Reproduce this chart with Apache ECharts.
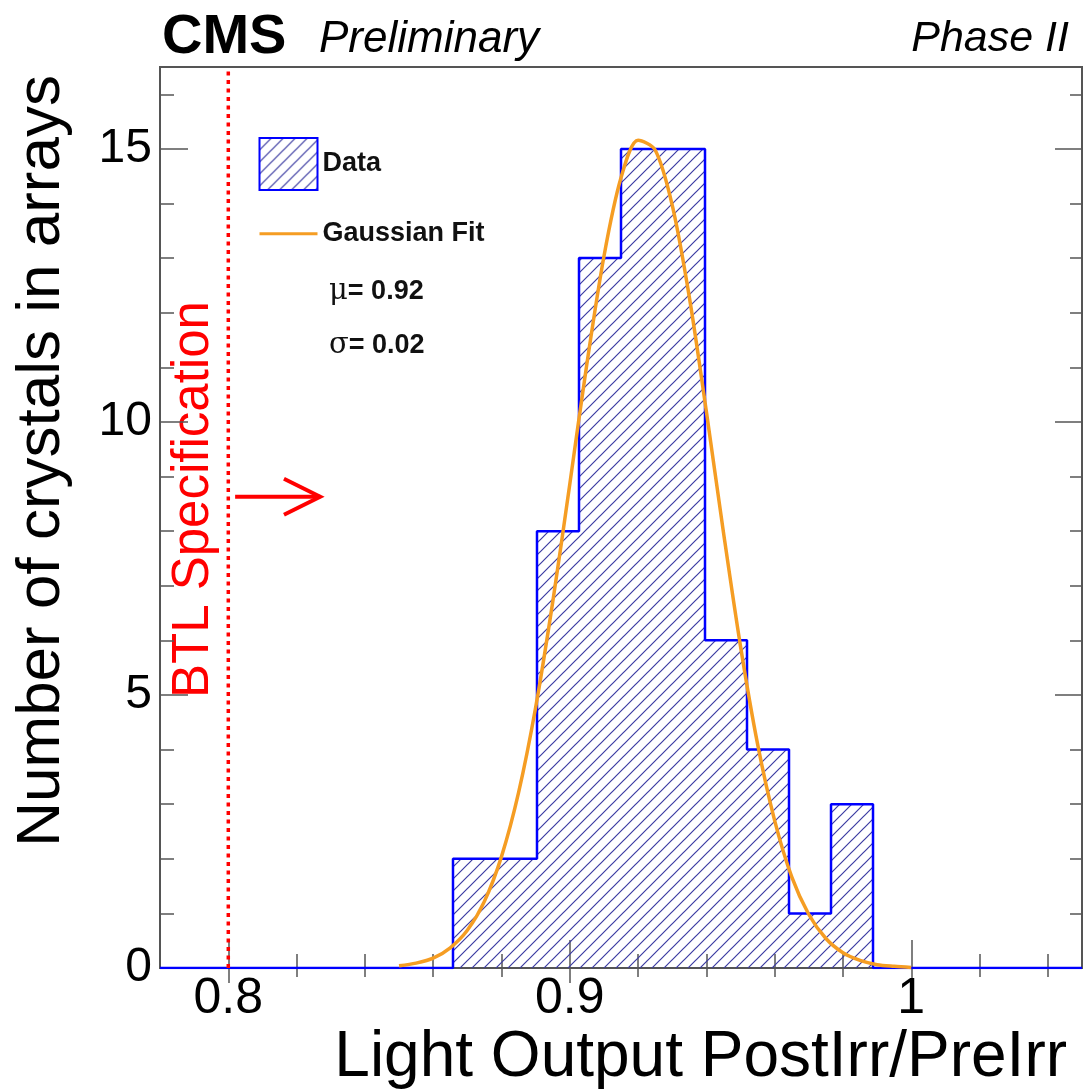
<!DOCTYPE html>
<html>
<head>
<meta charset="utf-8">
<script src="https://cdn.jsdelivr.net/npm/echarts@6/dist/echarts.min.js"></script>
<style>
  html, body { margin: 0; padding: 0; background: #fff; }
  #chart { width: 1084px; height: 1092px; }
</style>
</head>
<body>
<div id="chart"></div>
<script>
const xMin = 0.78;
const xMax = 1.05;
const yMax = 16.5;

// histogram: bin edges and entries per bin
const binEdges = [0.8658, 0.8781, 0.8904, 0.9027, 0.9150, 0.9273, 0.9396, 0.9519, 0.9642, 0.9765, 0.9888];
const binCounts = [2, 2, 8, 13, 15, 15, 6, 4, 1, 3];

// gaussian fit curve
const fitX = [0.850, 0.855, 0.860, 0.865, 0.870, 0.875, 0.880, 0.885, 0.890, 0.895,
              0.900, 0.905, 0.910, 0.915, 0.920, 0.925, 0.930, 0.935, 0.940, 0.945,
              0.950, 0.955, 0.960, 0.965, 0.970, 0.975, 0.980, 0.985, 0.990, 0.995, 1.000];
const fitY = [0.04, 0.09, 0.18, 0.37, 0.69, 1.22, 2.04, 3.21, 4.77, 6.70,
              8.86, 11.06, 13.03, 14.47, 15.16, 14.98, 13.97, 12.29, 10.19, 7.98,
              5.89, 4.10, 2.70, 1.67, 0.98, 0.54, 0.28, 0.14, 0.06, 0.03, 0.01];

// BTL specification line and arrow
const specX = 0.8;
const arrowShaft = [[0.802, 8.63], [0.8269, 8.63]];
const arrowHead = [[0.8163, 8.96], [0.8269, 8.63], [0.8163, 8.30]];

// ticks and labels
const xLabelTicks = [0.8, 0.9, 1.0];
const xMinorTicks = [0.80, 0.82, 0.84, 0.86, 0.88, 0.90, 0.92, 0.94, 0.96, 0.98, 1.00, 1.02, 1.04];
const yLabelTicks = [0, 5, 10, 15];
const yMinorTicks = [1, 2, 3, 4, 6, 7, 8, 9, 11, 12, 13, 14, 16];

const font = "'Liberation Sans', Arial, Helvetica, sans-serif";

// hatch fill like ROOT style 3004
const hatch = document.createElement("canvas");
hatch.width = 12;
hatch.height = 12;
const hctx = hatch.getContext("2d");
hctx.strokeStyle = "#3c3ca2";
hctx.lineWidth = 1.2;
hctx.beginPath();
hctx.moveTo(-6, 6); hctx.lineTo(6, -6);
hctx.moveTo(0, 12); hctx.lineTo(12, 0);
hctx.moveTo(6, 18); hctx.lineTo(18, 6);
hctx.stroke();
const hatchPattern = { image: hatch, repeat: "repeat" };

const histData = [[xMin, 0]];
binCounts.forEach((c, i) => histData.push([binEdges[i], c]));
histData.push([binEdges[binEdges.length - 1], 0], [xMax, 0]);

const tickColor = "#555";

function xAxisDef(position, ticks, len, withLabels) {
  return {
    type: "value",
    position: position,
    min: xMin,
    max: xMax,
    axisLine: { show: false },
    splitLine: { show: false },
    axisTick: {
      show: true,
      inside: true,
      length: len,
      customValues: ticks,
      lineStyle: { color: tickColor, width: 1.5 },
    },
    axisLabel: withLabels ? {
      show: true,
      customValues: xLabelTicks,
      formatter: (v) => String(Math.round(v * 10) / 10),
      fontSize: 50,
      fontFamily: font,
      color: "#000",
      margin: 6,
    } : { show: false },
  };
}

function yAxisDef(position, ticks, len, withLabels) {
  return {
    type: "value",
    position: position,
    min: 0,
    max: yMax,
    axisLine: { show: false },
    splitLine: { show: false },
    axisTick: {
      show: true,
      inside: true,
      length: len,
      customValues: ticks,
      lineStyle: { color: tickColor, width: 1.5 },
    },
    axisLabel: withLabels ? {
      show: true,
      customValues: yLabelTicks,
      fontSize: 48,
      fontFamily: font,
      color: "#000",
      margin: 8,
    } : { show: false },
  };
}

const chart = echarts.init(document.getElementById("chart"), null, { renderer: "canvas" });

const option = {
  animation: false,
  backgroundColor: "#fff",
  grid: {
    left: 160,
    right: 2,
    top: 67,
    bottom: 124,
    show: true,
    borderColor: "#555",
    borderWidth: 2,
  },
  xAxis: [
    xAxisDef("bottom", xMinorTicks, 14, true),
    xAxisDef("bottom", xLabelTicks, 28, false),
    xAxisDef("top", xMinorTicks, 9, false),
    xAxisDef("top", xLabelTicks, 15, false),
  ],
  yAxis: [
    yAxisDef("left", yMinorTicks, 14, true),
    yAxisDef("left", yLabelTicks, 28, false),
    yAxisDef("right", yMinorTicks, 12, false),
    yAxisDef("right", yLabelTicks, 27, false),
  ],
  legend: {
    orient: "vertical",
    left: 253,
    top: 132,
    itemWidth: 58,
    itemHeight: 52,
    itemGap: 22,
    textStyle: { fontSize: 27, fontWeight: "bold", fontFamily: font, color: "#111" },
    data: [
      {
        name: "Data",
        icon: "rect",
        itemStyle: { color: hatchPattern, borderColor: "#0000ff", borderWidth: 2 },
      },
      {
        name: "Gaussian Fit",
        itemStyle: { color: "rgba(0,0,0,0)", borderWidth: 0, opacity: 0 },
        lineStyle: { width: 3 },
      },
    ],
  },
  series: [
    {
      name: "Data",
      type: "line",
      step: "end",
      data: histData,
      symbol: "none",
      lineStyle: { color: "#0000ff", width: 2.5 },
      itemStyle: { color: "#0000ff" },
      areaStyle: { color: hatchPattern, opacity: 1 },
      z: 2,
    },
    {
      name: "Gaussian Fit",
      type: "line",
      data: fitX.map((x, i) => [x, fitY[i]]),
      smooth: 0.3,
      symbol: "none",
      lineStyle: { color: "#f59d23", width: 3.5 },
      itemStyle: { color: "#f59d23" },
      z: 3,
    },
    {
      name: "spec",
      type: "line",
      data: [[specX, 0], [specX, yMax]],
      symbol: "none",
      lineStyle: { color: "#ff0000", width: 3.5, type: [4, 4.5] },
      z: 4,
    },
    {
      name: "arrowShaft",
      type: "line",
      data: arrowShaft,
      symbol: "none",
      lineStyle: { color: "#ff0000", width: 4 },
      z: 4,
    },
    {
      name: "arrowHead",
      type: "line",
      data: arrowHead,
      symbol: "none",
      lineStyle: { color: "#ff0000", width: 4, join: "miter" },
      z: 4,
    },
  ],
  graphic: [
    {
      type: "text", left: 162, top: 10,
      style: { text: "CMS", font: "bold 56px " + font, fill: "#000" },
    },
    {
      type: "text", left: 319, top: 18,
      style: { text: "Preliminary", font: "italic 44px " + font, fill: "#000" },
    },
    {
      type: "text", right: 15, top: 18,
      style: { text: "Phase II", font: "italic 43px " + font, fill: "#000" },
    },
    {
      type: "text", right: 17, top: 1026,
      style: { text: "Light Output PostIrr/PreIrr", font: "64px " + font, fill: "#000" },
    },
    {
      type: "text", x: 42, y: 75, rotation: Math.PI / 2,
      style: {
        text: "Number of crystals in arrays", font: "62px " + font, fill: "#000",
        align: "right", verticalAlign: "middle",
      },
    },
    {
      type: "text", x: 194, y: 698, rotation: Math.PI / 2,
      style: {
        text: "BTL Specification", font: "51px " + font, fill: "#ff0000",
        align: "left", verticalAlign: "middle",
      },
    },
    {
      type: "text", left: 329, top: 277,
      style: {
        text: "{m|μ}= 0.92",
        font: "bold 27px " + font, fill: "#111",
        rich: { m: { fontSize: 29, fontWeight: "normal", fontFamily: "'DejaVu Serif', serif" } },
      },
    },
    {
      type: "text", left: 329, top: 331,
      style: {
        text: "{m|σ}= 0.02",
        font: "bold 27px " + font, fill: "#111",
        rich: { m: { fontSize: 29, fontWeight: "normal", fontFamily: "'DejaVu Serif', serif" } },
      },
    },
  ],
};

chart.setOption(option);
</script>
</body>
</html>
